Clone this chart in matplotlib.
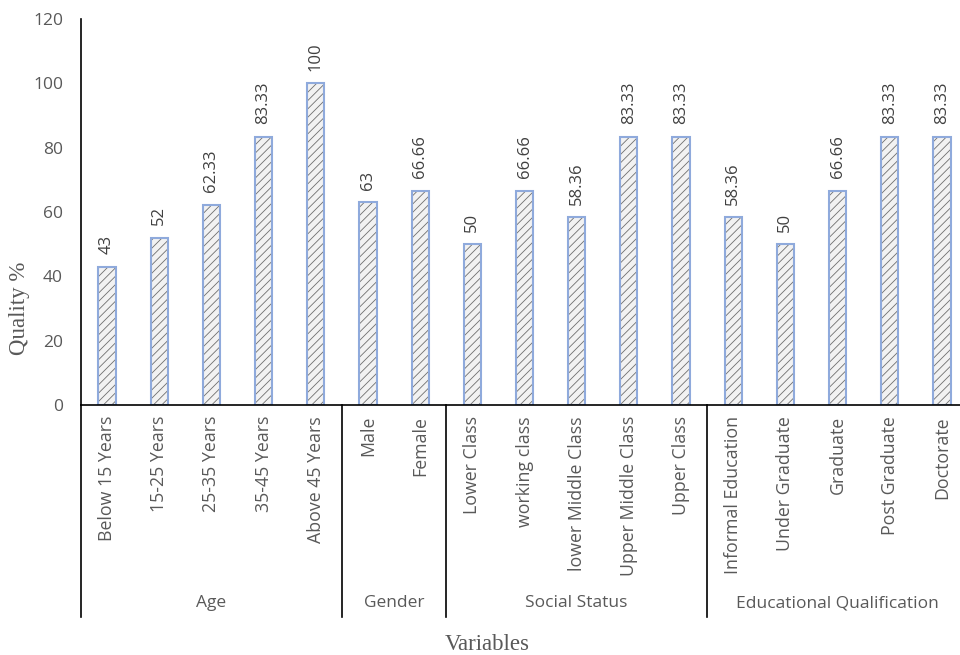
import matplotlib.pyplot as plt
import matplotlib.transforms as mtransforms

# Data
categories = ["Below 15 Years", "15-25 Years", "25-35 Years", "35-45 Years", "Above 45 Years",
              "Male", "Female",
              "Lower Class", "working class", "lower Middle Class", "Upper Middle Class", "Upper Class",
              "Informal Education", "Under Graduate", "Graduate", "Post Graduate", "Doctorate"]
values = [43, 52, 62.33, 83.33, 100,
          63, 66.66,
          50, 66.66, 58.36, 83.33, 83.33,
          58.36, 50, 66.66, 83.33, 83.33]
labels = ["43", "52", "62.33", "83.33", "100",
          "63", "66.66",
          "50", "66.66", "58.36", "83.33", "83.33",
          "58.36", "50", "66.66", "83.33", "83.33"]
groups = ["Age", "Gender", "Social Status", "Educational Qualification"]
group_sizes = [5, 2, 5, 5]

plt.rcParams["font.family"] = ["Open Sans", "DejaVu Sans"]
plt.rcParams["hatch.linewidth"] = 0.6

W, H = 960, 655
fig = plt.figure(figsize=(W / 100, H / 100), dpi=100)
ax = fig.add_axes([81 / W, (H - 405) / H, (968 - 81) / W, (405 - 19) / H])

x = list(range(len(categories)))
# hatched fill
ax.bar(x, values, width=0.33, color="#f2f2f2", edgecolor="#6f6f6f", hatch="////", linewidth=0)
# blue outline
ax.bar(x, values, width=0.33, fill=False, edgecolor="#8faadc", linewidth=1.5)

for xi, v, lab in zip(x, values, labels):
    ax.annotate(lab, (xi, v), xytext=(0, 9), textcoords="offset points",
                rotation=90, ha="center", va="bottom", fontsize=12, color="#404040")

ax.set_xlim(-0.5, len(categories) - 0.5)
ax.set_ylim(0, 120)
ax.set_yticks(range(0, 121, 20))
ax.tick_params(axis="y", length=0, labelsize=12.5, labelcolor="#595959", pad=13)
ax.set_xticks(x)
ax.set_xticklabels(categories, rotation=90, fontsize=12.8, color="#595959")
ax.tick_params(axis="x", length=0, pad=8)

for s in ["top", "right"]:
    ax.spines[s].set_visible(False)
ax.spines["left"].set_linewidth(1.2)
ax.spines["bottom"].set_linewidth(1.2)

# group separators and group labels
trans = mtransforms.blended_transform_factory(ax.transData, ax.transAxes)
y_bottom = (405 - 617) / (405 - 19)
y_label = (405 - 603) / (405 - 19)
start = 0
edges = [-0.5]
for g, n in zip(groups, group_sizes):
    edges.append(start + n - 0.5)
    ax.text(start + (n - 1) / 2, y_label, g, transform=trans, ha="center", va="center",
            fontsize=12.5, color="#595959")
    start += n
for e in edges[:-1]:
    ax.plot([e, e], [0, y_bottom], transform=trans, color="black", lw=1.2, clip_on=False)

fig.text(20 / W, 1 - 308 / H, "Quality %", family=["Liberation Serif"], fontsize=16.5,
         color="#595959", rotation=90, ha="center", va="center")
fig.text(487 / W, 1 - 645 / H, "Variables", family=["Liberation Serif"], fontsize=16.5,
         color="#595959", ha="center", va="center")

fig.savefig("out.png", dpi=100)
